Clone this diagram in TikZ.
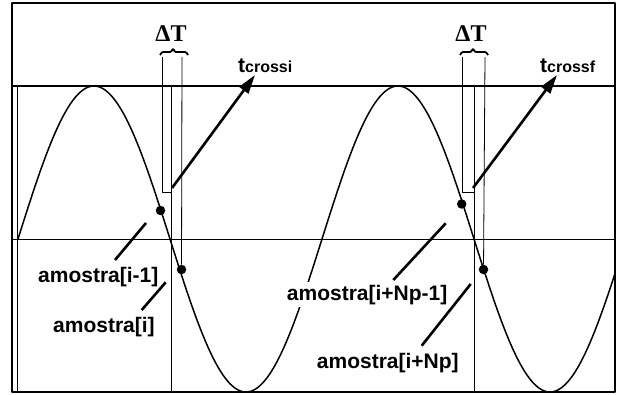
\documentclass[tikz,border=0pt]{standalone}
\usepackage{fontspec}
\setmainfont{Liberation Sans}
\newfontfamily\timesfont{Liberation Serif}
\usetikzlibrary{arrows.meta}

\begin{document}
\begin{tikzpicture}[x=1pt, y=-1pt, line join=round,
  guide/.style={line width=0.8pt},
  leader/.style={line width=2.6pt},
  pointer/.style={line width=2.6pt, -{Triangle[length=19pt,width=11pt]}},
  smp/.style={circle, fill, inner sep=0pt, minimum size=9.5pt},
  lbl/.style={font=\fontsize{21}{23}\selectfont\bfseries, fill=white,
    inner xsep=0pt, inner ysep=3pt, anchor=base west},
  dt/.style={font=\timesfont\fontsize{24}{26}\selectfont\bfseries, inner sep=0pt},
  brc/.style={line width=1.8pt, rounded corners=1pt}]
  \useasboundingbox (0,0) rectangle (617,394);
  % frame and axis
  \draw[line width=2pt] (12,3) rectangle (615,392);
  \draw[line width=2pt] (12,86) -- (615,86);
  \draw[guide] (17,86) -- (17,392);
  \draw[guide] (12,239) -- (615,239);
  % signal
  \draw[line width=1.5pt, domain=18:615, samples=240]
    plot (\x, {239-153*sin(1.18421*(\x-18))});

  % first crossing
  \node[smp] (s1) at (160.5,210.5) {};
  \node[smp] (s2) at (181.5,269.5) {};
  \draw[guide] (162,57) -- (162,192) -- (171,192);
  \draw[guide] (171,86) -- (171,392);
  \draw[guide] (182,57) -- (s2);
  \draw[brc] (160,55) -- (162,52) -- (171,52) -- (173,48.5) -- (175,52) -- (186,52) -- (188,55);
  \node[dt] (dt1) at (171,34) {ΔT};
  \node[lbl, fill=none] (tc1) at (238,72) {t{\fontsize{16}{16}\selectfont crossi}};
  \coordinate (c1) at (172,188);
  \coordinate (p1) at (255,75);
  \draw[pointer] (c1) -- (p1);

  % second crossing
  \node[smp] (s3) at (461.7,204) {};
  \node[smp] (s4) at (483.5,269.5) {};
  \draw[guide] (462.3,57) -- (462.3,192) -- (474.3,192);
  \draw[guide] (474.3,86) -- (474.3,392);
  \draw[guide] (485,57) -- (s4);
  \draw[brc] (460,55) -- (462,52) -- (471,52) -- (473,48.5) -- (475,52) -- (486,52) -- (488,55);
  \node[dt] (dt2) at (471,34) {ΔT};
  \node[lbl, fill=none] (tc2) at (540,72) {t{\fontsize{16}{16}\selectfont crossf}};
  \coordinate (c2) at (473,188);
  \coordinate (p2) at (557,75);
  \draw[pointer] (c2) -- (p2);

  % sample labels
  \node[lbl] (a1) at (38,282) {amostra[i-1]};
  \node[lbl] (a2) at (53,332.7) {amostra[i]};
  \node[lbl] (a3) at (286.7,300) {amostra[i+Np-1]};
  \node[lbl] (a4) at (316.7,368.3) {amostra[i+Np]};
  \coordinate (l1) at (115,260);   \coordinate (e1) at (146,223);
  \coordinate (l2) at (141.7,310); \coordinate (e2) at (165.7,282.3);
  \coordinate (l3) at (393.3,280); \coordinate (e3) at (445.7,223.3);
  \coordinate (l4) at (421.7,345.7); \coordinate (e4) at (470.7,284);
  \draw[leader] (l1) -- (e1);
  \draw[leader] (l2) -- (e2);
  \draw[leader] (l3) -- (e3);
  \draw[leader] (l4) -- (e4);
\end{tikzpicture}
\end{document}
